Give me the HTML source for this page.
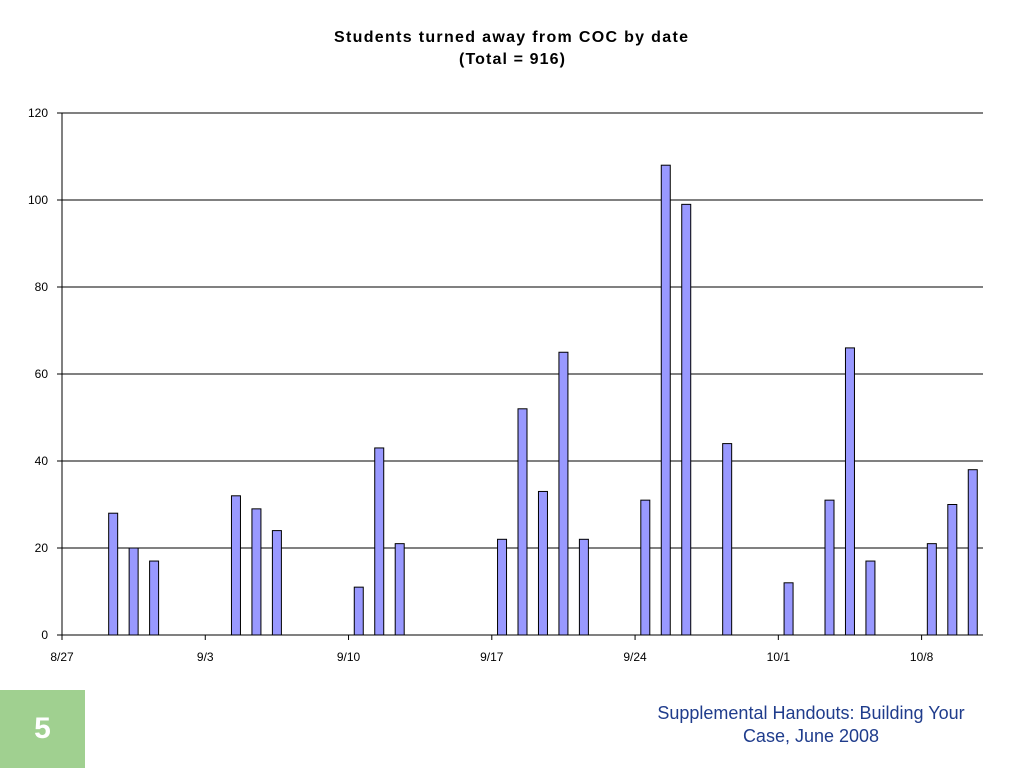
<!DOCTYPE html>
<html><head><meta charset="utf-8"><style>
body{margin:0;width:1024px;height:768px;background:#fff;font-family:"Liberation Sans",sans-serif;overflow:hidden;position:relative}
svg{position:absolute;left:0;top:0}
.slide-num{position:absolute;left:0;top:690px;width:85px;height:78px;background:#a0d090;color:#fff;font-weight:bold;font-size:30px;display:flex;align-items:center;justify-content:center}
.footer{position:absolute;left:656px;top:702px;width:310px;text-align:center;color:#1f3c8c;font-size:18px;line-height:23px}
</style></head><body>
<svg width="1024" height="768">
<text x="334" y="42" font-size="16" font-weight="bold" textLength="354" lengthAdjust="spacing">Students turned away from COC by date</text>
<text x="459" y="64" font-size="16" font-weight="bold" textLength="106" lengthAdjust="spacing">(Total = 916)</text>
<g id="grid"></g><g id="bars"></g><g id="axes"></g>
</svg>
<div class="slide-num">5</div>
<div class="footer">Supplemental Handouts: Building Your Case, June 2008</div>
<script>
const dayIndex=[2,3,4,8,9,10,14,15,16,21,22,23,24,25,28,29,30,32,35,37,38,39,42,43,44];
const values=[28,20,17,32,29,24,11,43,21,22,52,33,65,22,31,108,99,44,12,31,66,17,21,30,38];
const yTicks=[0,20,40,60,80,100,120];
const xLabels=["8/27","9/3","9/10","9/17","9/24","10/1","10/8"];
const NS="http://www.w3.org/2000/svg";
const X0=62,X1=983,Y0=635,Y1=113,nDays=45,yMax=120;
const sx=d=>X0+d*(X1-X0)/nDays;
const sy=v=>Y0-v*(Y0-Y1)/yMax;
function mk(t,a,p){const e=document.createElementNS(NS,t);for(const k in a)e.setAttribute(k,a[k]);p.appendChild(e);return e;}
const grid=document.getElementById('grid'),bars=document.getElementById('bars'),axes=document.getElementById('axes');
yTicks.forEach(v=>{
 if(v>0){const l=mk('line',{x1:X0,x2:X1,y1:sy(v),y2:sy(v),stroke:'#000','stroke-width':1},grid);
 
 }
 const tk=mk('line',{x1:X0-5,x2:X0,y1:sy(v),y2:sy(v),stroke:'#000'},axes);
 
 
 const t=mk('text',{x:48,y:sy(v)+4,'text-anchor':'end','font-size':12},axes);t.textContent=v;
 
 
});
values.forEach((v,i)=>{
 const cx=sx(dayIndex[i]+0.5);
 const r=mk('rect',{x:cx-4.5,y:sy(v),width:9,height:Y0-sy(v),fill:'#9999ff',stroke:'#000','stroke-width':1},bars);
 
 
});
const ya=mk('line',{x1:X0,x2:X0,y1:Y1,y2:Y0,stroke:'#000'},axes);


const xa=mk('line',{x1:X0,x2:X1,y1:Y0,y2:Y0,stroke:'#000'},axes);


xLabels.forEach((s,i)=>{
 const x=sx(i*7);
 const tk=mk('line',{x1:x,x2:x,y1:Y0,y2:Y0+5,stroke:'#000'},axes);
 
 
 const t=mk('text',{x:x,y:Y0+26,'text-anchor':'middle','font-size':12},axes);t.textContent=s;
 
 
});
</script>
</body></html>
